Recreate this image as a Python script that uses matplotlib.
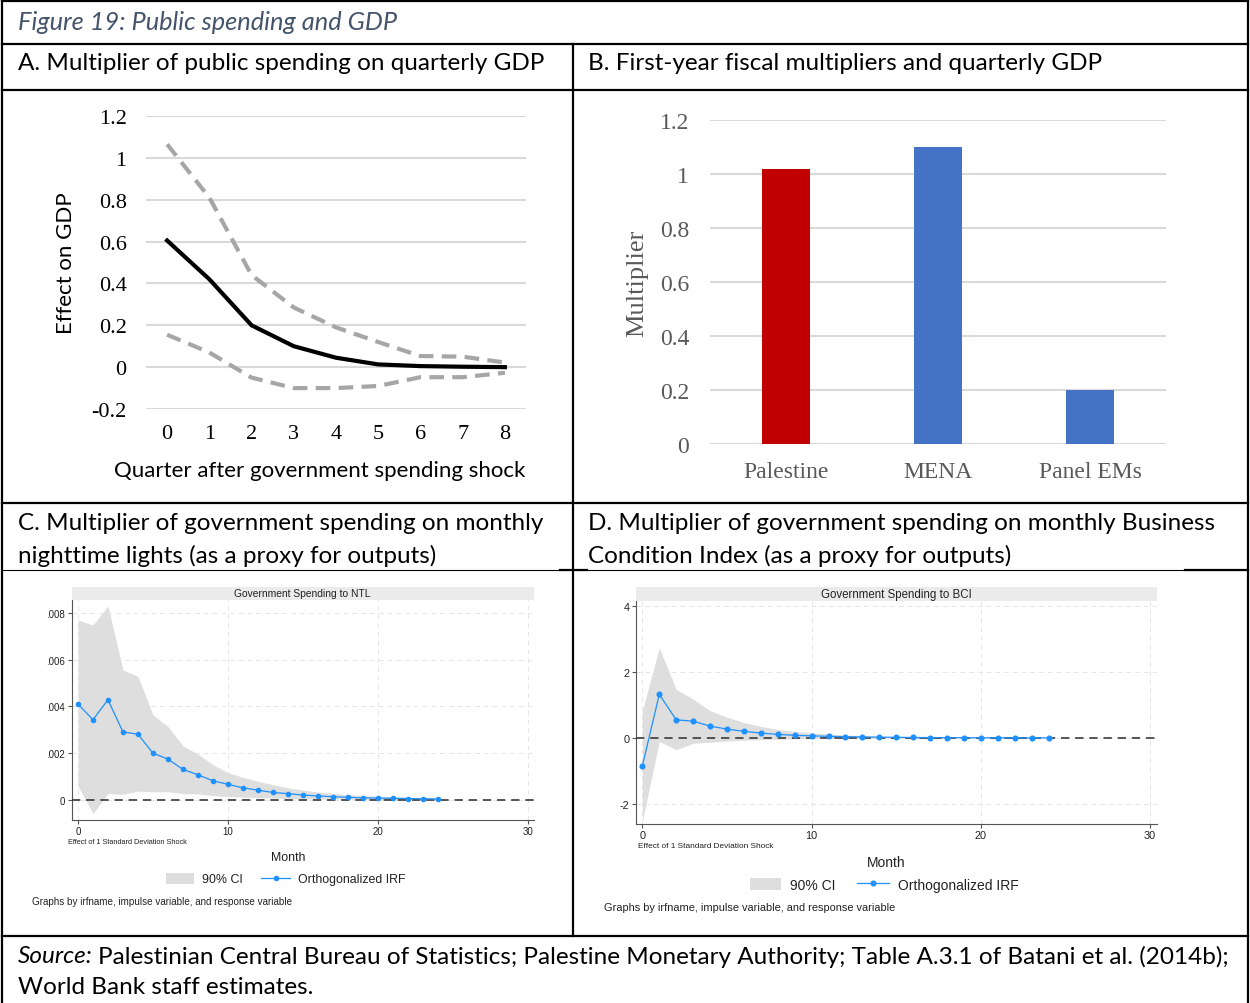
import numpy as np
import matplotlib
matplotlib.use('Agg')
import matplotlib.pyplot as plt
from matplotlib.lines import Line2D
from matplotlib.patches import Rectangle, Patch

# ---------------- data ----------------
quarters = [0, 1, 2, 3, 4, 5, 6, 7, 8]
gdp_effect = [0.605, 0.42, 0.20, 0.10, 0.045, 0.013, 0.005, 0.002, 0.0]
gdp_upper = [1.065, 0.81, 0.44, 0.285, 0.19, 0.12, 0.053, 0.05, 0.022]
gdp_lower = [0.155, 0.07, -0.05, -0.10, -0.10, -0.09, -0.048, -0.048, -0.027]

regions = ['Palestine', 'MENA', 'Panel EMs']
multipliers = [1.02, 1.10, 0.20]
bar_colors = ['#C00000', '#4472C4', '#4472C4']

months = list(range(25))
ntl_irf = [.00411, .00343, .00429, .00291, .00281, .00200, .00174, .00130, .00107, .00081,
           .00066, .00051, .00041, .00031, .00026, .00020, .00016, .00013, .00010, .00008,
           .00007, .00006, .00005, .00004, .00003]
ntl_hi = [.00771, .00750, .00831, .00557, .00529, .00364, .00314, .00231, .00196, .00150,
          .00116, .00096, .00079, .00064, .00051, .00041, .00033, .00027, .00022, .00018,
          .00015, .00012, .00010, .00008, .00007]
ntl_lo = [.00059, -.00059, .00026, .00023, .00037, .00034, .00034, .00026, .00025, .00017,
          .00014, .00011, .00009, .00007, .00005, .00004, .00003, .00003, .00002, .00002,
          .00001, .00001, .00001, .00001, .00000]

bci_irf = [-0.84, 1.32, 0.55, 0.51, 0.36, 0.27, 0.20, 0.15, 0.11, 0.08,
           0.065, 0.05, 0.04, 0.03, 0.025, 0.02, 0.015, 0.012, 0.01, 0.008,
           0.006, 0.005, 0.004, 0.003, 0.002]
bci_hi = [0.83, 2.73, 1.47, 1.18, 0.83, 0.63, 0.47, 0.35, 0.26, 0.20,
          0.16, 0.12, 0.09, 0.07, 0.05, 0.04, 0.03, 0.025, 0.02, 0.015,
          0.012, 0.01, 0.008, 0.006, 0.005]
bci_lo = [-2.51, -0.11, -0.35, -0.16, -0.13, -0.09, -0.07, -0.05, -0.035, -0.025,
          -0.015, -0.01, -0.006, -0.004, -0.003, -0.002, -0.002, -0.001, -0.001, -0.001,
          -0.001, 0.0, 0.0, 0.0, 0.0]

# ---------------- layout helpers (pixel coords, origin top-left) ----------------
W, H = 1250, 1004
def fx(x): return x / W
def fy(y): return 1 - y / H
def box(x0, y0, x1, y1): return [x0 / W, 1 - y1 / H, (x1 - x0) / W, (y1 - y0) / H]

DOC_FONT = 'Lato'
DOC_SIZE = 17.5
SERIF = 'Liberation Serif'
STATA = 'Liberation Sans'
IRF_BLUE = '#1E90FF'
CI_GRAY = '#DEDEDE'

fig = plt.figure(figsize=(12.5, 10.04), dpi=100)

def hline(y, x0=2, x1=1248, lw=1.6):
    fig.add_artist(Line2D([fx(x0), fx(x1)], [fy(y), fy(y)], color='black', lw=lw))

def vline(x, y0=2, y1=1004, lw=1.6):
    fig.add_artist(Line2D([fx(x), fx(x)], [fy(y0), fy(y1)], color='black', lw=lw))

# table frame
hline(2)
vline(2)
vline(1248)
hline(45)
hline(91)
hline(504)
hline(571, lw=0.8)
hline(571, 560, 587)
hline(571, 1185, 1248)
hline(937)
vline(573, 45, 937)

def doc_text(x, y, s, size=DOC_SIZE, **kw):
    fig.text(fx(x), fy(y), s, family=DOC_FONT, size=size, va='center', ha='left', **kw)

doc_text(18, 22, 'Figure 19: Public spending and GDP', size=18.3, style='italic', color='#44546A')
doc_text(18, 64, 'A. Multiplier of public spending on quarterly GDP')
doc_text(588, 64, 'B. First-year fiscal multipliers and quarterly GDP')
doc_text(18, 523, 'C. Multiplier of government spending on monthly')
doc_text(18, 556, 'nighttime lights (as a proxy for outputs)')
doc_text(588, 523, 'D. Multiplier of government spending on monthly Business')
doc_text(588, 556, 'Condition Index (as a proxy for outputs)')

# source line: italic "Source:" followed by regular text
src = fig.text(fx(18), fy(957), 'Source:', family=DOC_FONT, size=DOC_SIZE, style='italic',
               va='center', ha='left')
renderer = fig.canvas.get_renderer()
src_w = src.get_window_extent(renderer).width
fig.text(fx(18 + src_w + 5), fy(957),
         'Palestinian Central Bureau of Statistics; Palestine Monetary Authority; '
         'Table A.3.1 of Batani et al. (2014b);',
         family=DOC_FONT, size=DOC_SIZE, va='center', ha='left')
doc_text(18, 988, 'World Bank staff estimates.')

# ---------------- Panel A ----------------
axA = fig.add_axes(box(146, 117, 526, 410))
axA.plot(quarters, gdp_upper, color='#A6A6A6', lw=3, dashes=(3.5, 2))
axA.plot(quarters, gdp_lower, color='#A6A6A6', lw=3, dashes=(3.5, 2))
axA.plot(quarters, gdp_effect, color='black', lw=3)
axA.set_xlim(-0.5, 8.5)
axA.set_ylim(-0.2, 1.2)
yA = np.round(np.arange(-0.2, 1.21, 0.2), 1)
axA.set_yticks(yA)
axA.set_yticklabels([f'{v:g}' if v != 0 else '0' for v in yA])
axA.set_xticks(quarters)
axA.yaxis.grid(True, color='#D9D9D9', lw=1.5)
axA.set_axisbelow(True)
for s in axA.spines.values():
    s.set_visible(False)
axA.tick_params(axis='both', length=0, labelsize=16, labelfontfamily=SERIF, colors='black')
axA.tick_params(axis='x', pad=11)
axA.tick_params(axis='y', pad=14)
fig.text(fx(66), fy(263), 'Effect on GDP', family=DOC_FONT, size=16, rotation=90,
         ha='center', va='center')
fig.text(fx(320), fy(471), 'Quarter after government spending shock', family=DOC_FONT,
         size=16, ha='center', va='center')

# ---------------- Panel B ----------------
axB = fig.add_axes(box(710, 121, 1166, 445))
axB.bar(range(len(regions)), multipliers, width=0.32, color=bar_colors, zorder=3)
axB.set_xlim(-0.5, 2.5)
axB.set_ylim(0, 1.2)
yB = np.round(np.arange(0, 1.21, 0.2), 1)
axB.set_yticks(yB)
axB.set_yticklabels([f'{v:g}' for v in yB])
axB.set_xticks(range(len(regions)))
axB.set_xticklabels(regions)
axB.yaxis.grid(True, color='#D9D9D9', lw=1.5)
axB.set_axisbelow(True)
for s in axB.spines.values():
    s.set_visible(False)
axB.tick_params(axis='both', length=0, labelsize=17, labelfontfamily=SERIF, labelcolor='#595959')
axB.tick_params(axis='x', pad=12)
axB.tick_params(axis='y', pad=15)
fig.text(fx(637), fy(283), 'Multiplier', family=SERIF, size=19, color='#595959', rotation=90,
         ha='center', va='center')

# ---------------- Panels C and D (Stata irf graphs) ----------------
def stata_panel(rect, strip, title, irf, lo, hi, xlim, ylim, yticks, ylabels, k,
                effect_xy, month_xy, legend_xy, graphs_xy):
    x0, y0, x1, y1 = rect
    ax = fig.add_axes(box(x0, y0, x1, y1))
    ax.fill_between(months, lo, hi, color=CI_GRAY, lw=0, zorder=2)
    ax.axhline(0, color='#3A3A3A', lw=1.2, dashes=(5, 3.5), zorder=3)
    ax.plot(months, irf, color=IRF_BLUE, lw=0.9, marker='o', ms=3 * k, zorder=4)
    ax.set_xlim(*xlim)
    ax.set_ylim(*ylim)
    ax.set_xticks([0, 10, 20, 30])
    ax.set_yticks(yticks)
    ax.set_yticklabels(ylabels)
    ax.grid(True, color='#E6E6E6', lw=0.7, ls=(0, (5, 4)))
    ax.set_axisbelow(True)
    ax.spines['top'].set_visible(False)
    ax.spines['right'].set_visible(False)
    for side in ('left', 'bottom'):
        ax.spines[side].set_color('#555555')
        ax.spines[side].set_linewidth(0.8)
    ax.tick_params(axis='both', labelsize=7 * k, length=3, width=0.8, color='#555555',
                   pad=1.5, labelfontfamily=STATA, labelcolor='#222222')
    # strip title
    fig.add_artist(Rectangle((fx(x0), fy(y0)), fx(x1) - fx(x0), (y0 - strip) / H,
                             transform=fig.transFigure, color='#EBEBEB', lw=0))
    fig.text(fx((x0 + x1) / 2), fy((y0 + strip) / 2), title, family=STATA, size=7.4 * k,
             ha='center', va='center', color='#222222')
    fig.text(fx(effect_xy[0]), fy(effect_xy[1]), 'Effect of 1 Standard Deviation Shock',
             family=STATA, size=5.3 * k, ha='left', va='center', color='#222222')
    fig.text(fx(month_xy[0]), fy(month_xy[1]), 'Month', family=STATA, size=8.9 * k,
             ha='center', va='center', color='#222222')
    handles = [Patch(facecolor=CI_GRAY, edgecolor='none'),
               Line2D([], [], color=IRF_BLUE, lw=0.9, marker='o', ms=3 * k)]
    leg = ax.legend(handles, ['90% CI', 'Orthogonalized IRF'], ncol=2, frameon=False,
                    loc='center', bbox_to_anchor=(fx(legend_xy[0]), fy(legend_xy[1])),
                    bbox_transform=fig.transFigure, numpoints=1,
                    handlelength=2.3, handleheight=1.0, handletextpad=0.65,
                    columnspacing=1.5, prop={'family': STATA, 'size': 8.9 * k})
    for t in leg.get_texts():
        t.set_color('#222222')
    fig.text(fx(graphs_xy[0]), fy(graphs_xy[1]),
             'Graphs by irfname, impulse variable, and response variable',
             family=STATA, size=7.1 * k, ha='left', va='center', color='#222222')
    return ax

stata_panel((71.5, 601, 533.5, 820.7), 587.7, 'Government Spending to NTL',
            ntl_irf, ntl_lo, ntl_hi, (-0.43, 30.37), (-0.000858, 0.00857),
            [0, .002, .004, .006, .008], ['0', '.002', '.004', '.006', '.008'], 1.0,
            (68, 843), (288, 858), (285.5, 880), (32, 902))

stata_panel((635.6, 601.7, 1157.4, 825), 587.7, 'Government Spending to BCI',
            bci_irf, bci_lo, bci_hi, (-0.4, 30.43), (-2.606, 4.16),
            [-2, 0, 2, 4], ['-2', '0', '2', '4'], 1.12,
            (638, 847), (886, 863), (884, 885.7), (604, 907.7))

plt.savefig('out.png', dpi=100)
